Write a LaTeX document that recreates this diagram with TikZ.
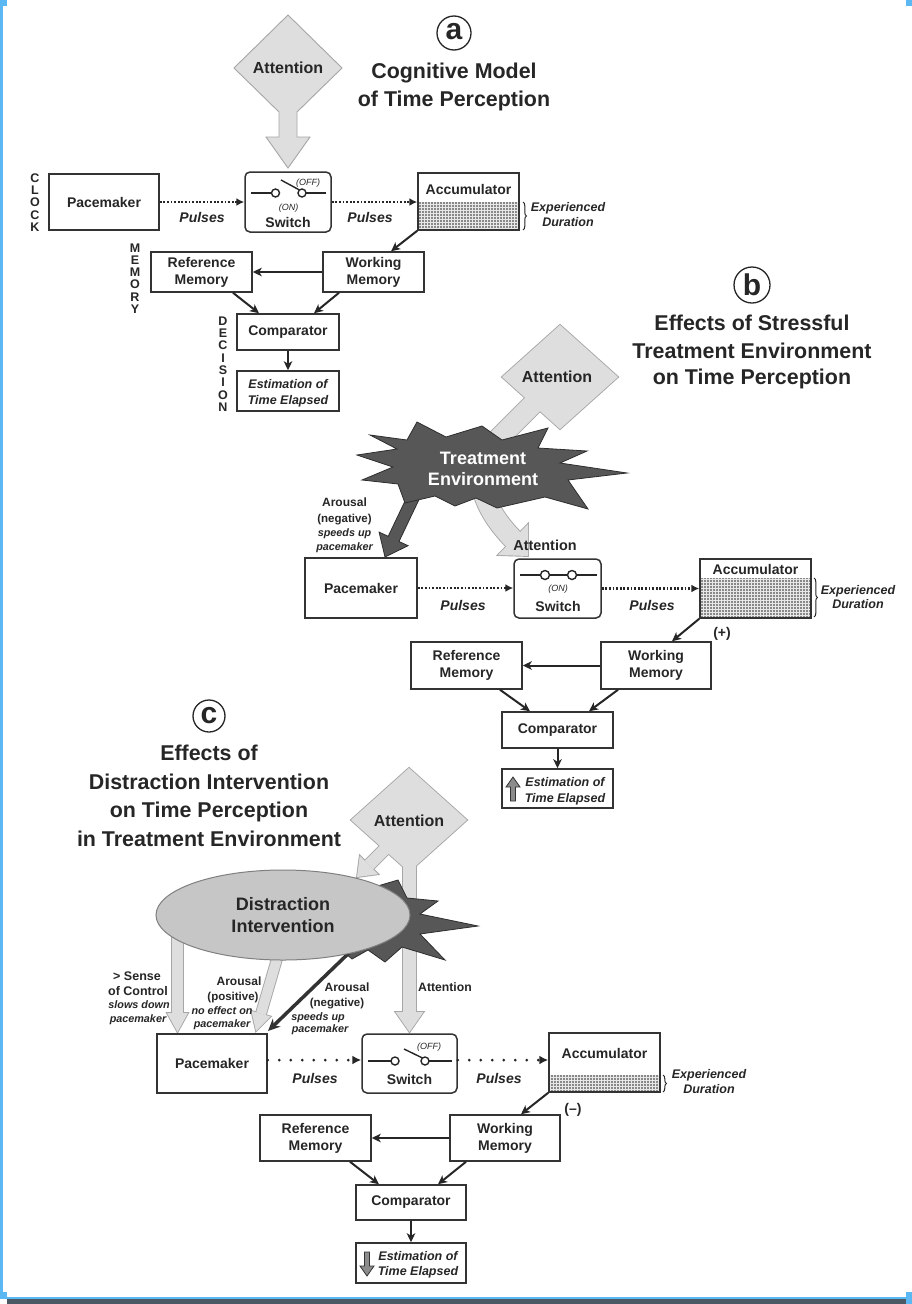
\documentclass[tikz,border=0pt]{standalone}
\usepackage{fontspec}
\setmainfont{Liberation Sans}
\usetikzlibrary{arrows.meta,patterns,patterns.meta,decorations.pathreplacing,shapes.geometric}
\newcommand\myfs[2]{\fontsize{#1}{#2}\selectfont}
\definecolor{attfill}{HTML}{DEDEDE}
\definecolor{attline}{HTML}{A6A6A6}
\definecolor{starfill}{HTML}{575757}
\definecolor{starline}{HTML}{2E2E2E}
\definecolor{ellfill}{HTML}{C6C6C6}
\definecolor{ellline}{HTML}{808080}
\definecolor{ink}{HTML}{262626}
\definecolor{boxline}{HTML}{333333}
\definecolor{bluebar}{HTML}{5BB8F2}
\definecolor{darkbar}{HTML}{4A5964}
\newcommand\attBpieces[2]{%
  \path[#1] (560,325) -- (618,377) -- (560,429) -- (502,377) -- cycle;
  \path[#1] (528,524) -- (528,556) -- (498,555) -- cycle;
  \path[#2] (540,397) -- (495,442) .. controls (468,469) and (482,509) .. (516,542);
}
\newcommand\attCpieces[1]{%
  \path[#1] (409,768) -- (467,820) -- (409,872) -- (351,820) -- cycle;
  \path[#1] (403,850) rectangle (416,1013);
  \path[#1] (395.5,1012) -- (423.5,1012) -- (409.5,1032) -- cycle;
  \path[#1] (392.2,850.2) -- (373.2,869.2) -- (364.8,860.8) -- (383.8,841.8) -- cycle;
  \path[#1] (378.2,874.2) -- (357,877) -- (359.8,855.8) -- cycle;
}
\newcommand\lightCpieces[1]{%
  \path[#1] (172,930) rectangle (183,1014);
  \path[#1] (167,1013) -- (188,1013) -- (177.5,1032) -- cycle;
  \path[#1] (285.8,946.4) -- (265.8,1015.1) -- (256.2,1012.3) -- (276.2,943.6) -- cycle;
  \path[#1] (270.6,1016.5) -- (256,1031) -- (251.4,1010.9) -- cycle;
}
\begin{document}
\begin{tikzpicture}[x=1pt,y=-1pt,
  box/.style={draw=boxline,line width=1.5pt,fill=white,inner sep=0pt,align=center,text=ink,font=\myfs{14}{17}\bfseries},
  sbox/.style={box,rounded corners=5pt},
  tbox/.style={draw=boxline,line width=1.5pt,inner sep=0pt},
  arr/.style={draw=ink,line width=2pt,-{Stealth[length=9pt,width=8.5pt,inset=2.5pt]}},
  dotarr/.style={draw=ink,line width=2.4pt,dash pattern=on 1.8pt off 1.8pt,-{Latex[length=8pt,width=8pt]}},
  sparsearr/.style={draw=ink,line width=3pt,line cap=round,dash pattern=on 0pt off 11.5pt,-{Latex[length=9pt,width=9pt]}},
  bl/.style={anchor=base,inner sep=0pt,text=ink},
  btxt/.style={bl,font=\myfs{14}{17}\bfseries},
  puls/.style={bl,font=\myfs{14}{17}\bfseries\itshape},
  tinyl/.style={bl,font=\myfs{9}{11}\itshape},
  expd/.style={bl,font=\myfs{12.5}{15}\bfseries\itshape},
  ttl/.style={bl,font=\myfs{21.4}{26}\bfseries},
  attl/.style={bl,font=\myfs{16}{19}\bfseries},
  aro/.style={bl,font=\myfs{12}{14}\bfseries},
  paren/.style={bl,font=\myfs{11.5}{14}\bfseries},
  ital/.style={bl,font=\myfs{10.8}{13}\bfseries\itshape},
  vlet/.style={align=center,inner sep=0pt,text=ink,font=\myfs{12.5}{12.3}\bfseries},
  accdots/.style={pattern={Dots[distance=3pt,radius=0.85pt]},pattern color=black!85},
  circl/.style={inner sep=0pt,text=ink,font=\myfs{30}{30}\bfseries},
  swline/.style={draw=ink,line width=1.4pt},
  swcirc/.style={draw=ink,line width=1.4pt,fill=white},
  brc/.style={draw=ink,line width=1pt,decorate,decoration={brace,amplitude=3.5pt}},
  estarr/.style={fill=black!45,draw=black!80,line width=0.8pt},
]
\useasboundingbox (0,0) rectangle (912,1304);
\fill[white] (0,0) rectangle (912,1304);

%%%%%%%%%%%%%%%% (a)
\draw[ink,line width=1.3pt] (454,33) circle[radius=17pt];
\node[circl] (circA) at (454,32) {a};
\node[ttl] (ttlA1) at (454,78.7) {Cognitive Model};
\node[ttl] (ttlA2) at (454,106.7) {of Time Perception};

\filldraw[fill=attfill,draw=attline,line width=0.9pt]
  (288,15) -- (342,68) -- (297,112) -- (297,137) -- (310,137) -- (288,168)
  -- (266,137) -- (279,137) -- (279,112) -- (234,68) -- cycle;
\node[attl] (attA) at (288,73.8) {Attention};

\node[vlet] (clock) at (35,202.5) {C\\L\\O\\C\\K};
\node[vlet] (memlab) at (135,278.5) {M\\E\\M\\O\\R\\Y};
\node[vlet] (declab) at (223,364) {D\\E\\C\\I\\S\\I\\O\\N};

\node[box,minimum width=110pt,minimum height=56pt] (pmA) at (104,202) {Pacemaker};
\node[sbox,minimum width=86pt,minimum height=60pt] (swA) at (288,202) {};
\fill[gray!18] (418,202) rectangle (519,230);
\fill[accdots] (418,202) rectangle (519,230);
\node[tbox,minimum width=101pt,minimum height=57pt] (acA) at (468.5,201.5) {};
\node[btxt] (acAt) at (468.5,194) {Accumulator};
\node[box,minimum width=101pt,minimum height=40pt] (wmA) at (373.5,272) {Working\\Memory};
\node[box,minimum width=101pt,minimum height=40pt] (rmA) at (201.5,272) {Reference\\Memory};
\node[box,minimum width=102pt,minimum height=36pt] (cmA) at (288,332) {Comparator};
\node[box,minimum width=102pt,minimum height=40pt] (esA) at (288,391) {};
\node[expd] (esA1) at (288,388.5) {Estimation of};
\node[expd] (esA2) at (288,404.5) {Time Elapsed};

% switch symbol (a)
\draw[swline] (251,193) -- (271.5,193);
\draw[swline] (306,193) -- (326,193);
\draw[swline] (299.5,190) -- (281,180);
\draw[swcirc] (275.5,193) circle[radius=4pt];
\draw[swcirc] (302,193) circle[radius=4pt];
\node[tinyl] (offA) at (308,185.2) {(OFF)};
\node[tinyl] (onA) at (288.5,210.2) {(ON)};
\node[btxt] (swAt) at (288,227) {Switch};

\draw[dotarr] (pmA.east) -- (swA.west);
\draw[dotarr] (swA.east) -- (swA.east -| acA.west);
\node[puls] (puA1) at (202,222) {Pulses};
\node[puls] (puA2) at (370,222) {Pulses};
\draw[brc] (523,202) -- (523,230);
\node[expd] (exA1) at (568,211.5) {Experienced};
\node[expd] (exA2) at (568,226.5) {Duration};

\draw[arr] (acA.south west) -- ([xshift=17.5pt]wmA.north);
\draw[arr] (wmA.west) -- (rmA.east);
\draw[arr] ([xshift=31.5pt]rmA.south) -- ([xshift=-29pt]cmA.north);
\draw[arr] ([xshift=-34.5pt]wmA.south) -- ([xshift=26pt]cmA.north);
\draw[arr] (cmA.south) -- (esA.north);

%%%%%%%%%%%%%%%% (b)
\draw[ink,line width=1.3pt] (752,285) circle[radius=18pt];
\node[circl] (circB) at (752,285) {b};
\node[ttl] (ttlB1) at (752,330.7) {Effects of Stressful};
\node[ttl] (ttlB2) at (752,358.7) {Treatment Environment};
\node[ttl] (ttlB3) at (752,384.7) {on Time Perception};

\attBpieces{fill=attfill,draw=attline,line width=1.8pt}{draw=attline,line width=21.8pt}
\attBpieces{fill=attfill}{draw=attfill,line width=20pt}
\node[attl] (attB) at (557,382.8) {Attention};

% arousal arrow (b)
\filldraw[fill=starfill,draw=starline,line width=0.8pt]
  (420.4,496.6) -- (399,541.5) -- (408.1,545.7) -- (385,557) -- (379.1,532.1)
  -- (388.2,536.3) -- (409.6,491.4) -- cycle;

% star (b)
\filldraw[fill=starfill,draw=starline,line width=0.8pt]
  (357,455) -- (397,449) -- (370,435) -- (407,440) -- (417,422) -- (446,437)
  -- (482,426) -- (502,440) -- (548,428) -- (538,448) -- (587,451) -- (560,463)
  -- (627,473) -- (568,480) -- (588,509) -- (545,497) -- (497,508) -- (476,498)
  -- (455,506) -- (435,496) -- (405,503) -- (398,484) -- (362,480) -- (393,467) -- cycle;
\node[bl,text=white,font=\myfs{18}{22}\bfseries] (trtB1) at (483,464.5) {Treatment};
\node[bl,text=white,font=\myfs{18}{22}\bfseries] (trtB2) at (483,485.5) {Environment};

\node[aro] (aroB1) at (344.5,506.3) {Arousal};
\node[paren] (aroB2) at (344.5,522.1) {(negative)};
\node[ital] (aroB3) at (344.5,536.4) {speeds up};
\node[ital] (aroB4) at (344.5,550.9) {pacemaker};
\node[bl,font=\myfs{14.4}{17}\bfseries] (attBs) at (545,550.2) {Attention};

\node[box,minimum width=112pt,minimum height=60pt] (pmB) at (361,588) {Pacemaker};
\node[sbox,minimum width=87pt,minimum height=59pt] (swB) at (557.5,588.5) {};
\fill[gray!18] (700,578) rectangle (811,618);
\fill[accdots] (700,578) rectangle (811,618);
\node[tbox,minimum width=111pt,minimum height=59pt] (acB) at (755.5,588.5) {};
\node[btxt] (acBt) at (755.5,574) {Accumulator};
\node[box,minimum width=110pt,minimum height=47pt] (wmB) at (656,665.5) {Working\\Memory};
\node[box,minimum width=111pt,minimum height=47pt] (rmB) at (466.5,665.5) {Reference\\Memory};
\node[box,minimum width=111pt,minimum height=36pt] (cmB) at (557.5,730) {Comparator};
\node[box,minimum width=111pt,minimum height=39pt] (esB) at (557.5,788.5) {};
\node[expd] (esB1) at (565,786.5) {Estimation of};
\node[expd] (esB2) at (565,802.5) {Time Elapsed};
\filldraw[estarr] (513,777) -- (520,787) -- (515.5,787) -- (515.5,801) -- (510.5,801) -- (510.5,787) -- (506,787) -- cycle;

% switch symbol (b)
\draw[swline] (520,575) -- (597,575);
\draw[swcirc] (545,575) circle[radius=4.5pt];
\draw[swcirc] (572,575) circle[radius=4.5pt];
\node[tinyl] (onB) at (558,591.2) {(ON)};
\node[btxt] (swBt) at (558,611) {Switch};

\draw[dotarr] (pmB.east) -- (pmB.east -| swB.west);
\draw[dotarr] (swB.east) -- (swB.east -| acB.west);
\node[puls] (puB1) at (463,610) {Pulses};
\node[puls] (puB2) at (652,610) {Pulses};
\draw[brc] (814,578) -- (814,617);
\node[expd] (exB1) at (858,594.5) {Experienced};
\node[expd] (exB2) at (858,608.5) {Duration};
\node[btxt] (plusB) at (722,637) {(+)};

\draw[arr] (acB.south west) -- ([xshift=16pt]wmB.north);
\draw[arr] (wmB.west) -- (rmB.east);
\draw[arr] ([xshift=33.5pt]rmB.south) -- ([xshift=-27.5pt]cmB.north);
\draw[arr] ([xshift=-38pt]wmB.south) -- ([xshift=31.5pt]cmB.north);
\draw[arr] (cmB.south) -- (esB.north);

%%%%%%%%%%%%%%%% (c)
\draw[ink,line width=1.3pt] (209,716) circle[radius=16pt];
\node[circl] (circC) at (209,716) {c};
\node[ttl] (ttlC1) at (209,760.7) {Effects of};
\node[ttl] (ttlC2) at (209,789.7) {Distraction Intervention};
\node[ttl] (ttlC3) at (209,817.7) {on Time Perception};
\node[ttl] (ttlC4) at (209,846.7) {in Treatment Environment};

\attCpieces{fill=attfill,draw=attline,line width=1.8pt}
\attCpieces{fill=attfill}
\node[attl] (attC) at (409,826.8) {Attention};

\lightCpieces{fill=attfill,draw=attline,line width=1.8pt}
\lightCpieces{fill=attfill}

% star (c)
\filldraw[fill=starfill,draw=starline,line width=0.8pt]
  (330,900) -- (398,880) -- (407,898) -- (438,901) -- (420,914) -- (478,926)
  -- (420,934) -- (445,960) -- (402,947) -- (385,962) -- (368,950) -- (352,959)
  -- (330,940) -- cycle;
\draw[draw=black!80,line width=3.5pt,-{Stealth[length=12pt,width=11pt]}] (352,950) -- (268,1031);

\node[ellipse,draw=ellline,line width=1pt,fill=ellfill,minimum width=254pt,minimum height=90pt,inner sep=0pt,
  align=center,text=ink,font=\myfs{18}{22}\bfseries] (dist) at (283,915) {Distraction\\Intervention};

\node[bl,font=\myfs{12.5}{15}\bfseries] (scC1) at (137,980.5) {> Sense};
\node[bl,font=\myfs{12.5}{15}\bfseries] (scC2) at (138,995.5) {of Control};
\node[ital] (scC3) at (139,1008.9) {slows down};
\node[ital] (scC4) at (138,1022.9) {pacemaker};
\node[aro] (apC1) at (239,985.3) {Arousal};
\node[paren] (apC2) at (233,1000.1) {(positive)};
\node[ital] (apC3) at (222,1014.9) {no effect on};
\node[ital] (apC4) at (222,1027.9) {pacemaker};
\node[aro] (anC1) at (347,991.3) {Arousal};
\node[paren] (anC2) at (337,1006.1) {(negative)};
\node[ital] (anC3) at (318,1020.9) {speeds up};
\node[ital] (anC4) at (320,1032.9) {pacemaker};
\node[bl,font=\myfs{12.2}{15}\bfseries] (attCs) at (445,991.4) {Attention};

\node[box,minimum width=110pt,minimum height=59pt] (pmC) at (212,1063.5) {Pacemaker};
\node[sbox,minimum width=95pt,minimum height=59pt] (swC) at (409.5,1063.5) {};
\fill[gray!18] (549,1075) rectangle (660,1092);
\fill[accdots] (549,1075) rectangle (660,1092);
\node[tbox,minimum width=111pt,minimum height=59pt] (acC) at (604.5,1062.5) {};
\node[btxt] (acCt) at (604.5,1058) {Accumulator};
\node[box,minimum width=110pt,minimum height=46pt] (wmC) at (505,1138) {Working\\Memory};
\node[box,minimum width=111pt,minimum height=46pt] (rmC) at (315.5,1138) {Reference\\Memory};
\node[box,minimum width=110pt,minimum height=35pt] (cmC) at (411,1202.5) {Comparator};
\node[box,minimum width=110pt,minimum height=40pt] (esC) at (411,1263) {};
\node[expd] (esC1) at (418,1260.5) {Estimation of};
\node[expd] (esC2) at (418,1275.5) {Time Elapsed};
\filldraw[estarr] (367,1276) -- (374,1266) -- (369.5,1266) -- (369.5,1252) -- (364.5,1252) -- (364.5,1266) -- (360,1266) -- cycle;

% switch symbol (c)
\draw[swline] (368,1061) -- (391,1061);
\draw[swline] (429,1061) -- (452,1061);
\draw[swline] (422.5,1058) -- (404,1049);
\draw[swcirc] (395,1061) circle[radius=4pt];
\draw[swcirc] (425,1061) circle[radius=4pt];
\node[tinyl] (offC) at (429,1049.2) {(OFF)};
\node[btxt] (swCt) at (409.5,1084) {Switch};

\draw[sparsearr] ([yshift=3.5pt]pmC.east) -- ([yshift=3.5pt]pmC.east -| swC.west);
\draw[sparsearr] ([yshift=3.5pt]swC.east) -- ([yshift=3.5pt]swC.east -| acC.west);
\node[puls] (puC1) at (315,1083) {Pulses};
\node[puls] (puC2) at (499,1083) {Pulses};
\draw[brc] (663,1075) -- (663,1092);
\node[expd] (exC1) at (709,1078.5) {Experienced};
\node[expd] (exC2) at (709,1093.5) {Duration};
\node[btxt] (minC) at (573,1113) {(–)};

\draw[arr] (acC.south west) -- ([xshift=16pt]wmC.north);
\draw[arr] (wmC.west) -- (rmC.east);
\draw[arr] ([xshift=34.5pt]rmC.south) -- ([xshift=-32pt]cmC.north);
\draw[arr] ([xshift=-39pt]wmC.south) -- ([xshift=27pt]cmC.north);
\draw[arr] (cmC.south) -- (esC.north);

%%%%%%%%%%%%%%%% border
\fill[bluebar] (0,0) rectangle (2.5,1298);
\fill[bluebar] (0,0) rectangle (7,6);
\fill[bluebar] (906,0) rectangle (912,6);
\fill[bluebar] (0,1292) rectangle (7,1298.5);
\fill[bluebar] (0,1296.5) rectangle (912,1299);
\fill[darkbar] (7,1299) rectangle (906,1304);
\fill[bluebar] (906,1292) rectangle (912,1304);
\end{tikzpicture}
\end{document}
